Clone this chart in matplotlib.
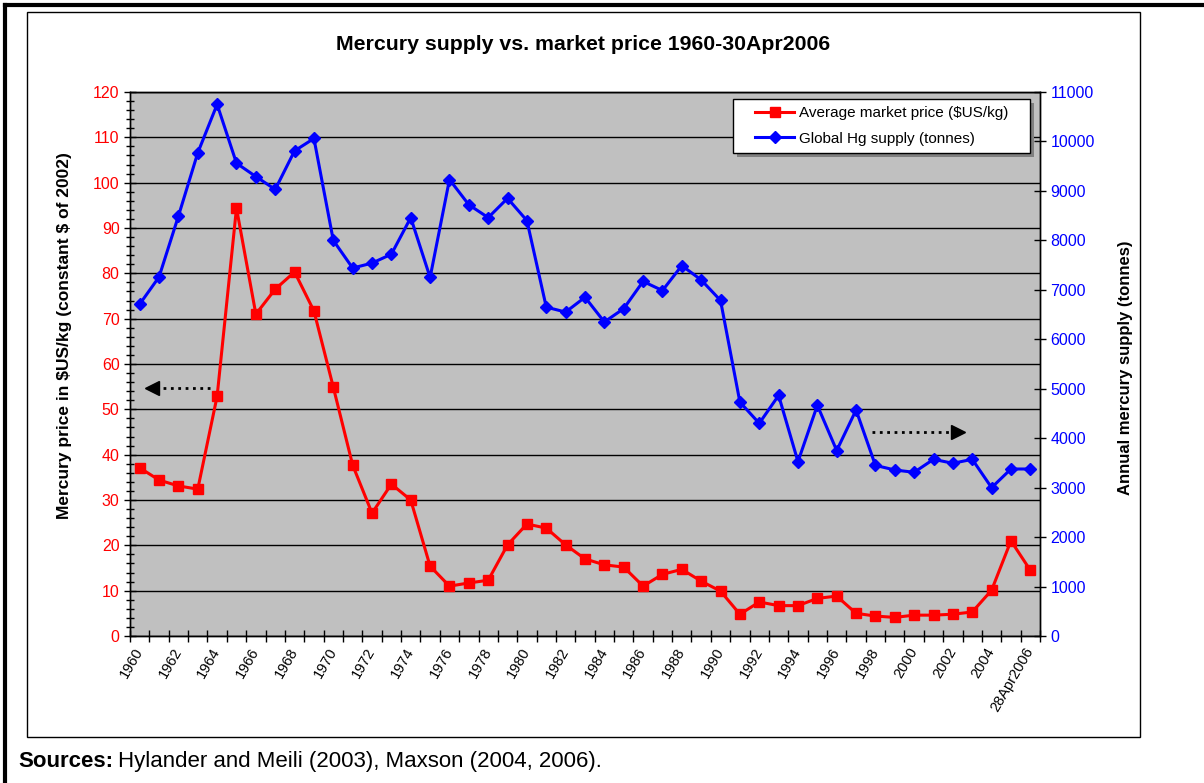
import matplotlib.pyplot as plt
from matplotlib.ticker import MultipleLocator, FixedLocator
from matplotlib.lines import Line2D
from matplotlib.patches import Rectangle

plt.rcParams['font.family'] = ['Liberation Sans', 'DejaVu Sans']

# categories: one per year, last one is the 2006 spot value
years = [str(y) for y in range(1960, 2006)] + ['28Apr2006']

# average market price ($US/kg, constant $ of 2002)
price = [37.1, 34.4, 33.1, 32.4, 52.9, 94.4, 71.0, 76.5, 80.3, 71.7,
         54.9, 37.7, 27.1, 33.5, 30.0, 15.4, 11.0, 11.7, 12.3, 20.1,
         24.7, 23.8, 20.1, 17.0, 15.7, 15.2, 11.0, 13.6, 14.7, 12.1,
         9.9, 4.8, 7.5, 6.7, 6.7, 8.3, 8.8, 5.0, 4.4, 4.1,
         4.6, 4.6, 4.8, 5.3, 10.1, 21.0, 14.5]

# global Hg supply (tonnes)
supply = [6710, 7260, 8490, 9770, 10750, 9560, 9290, 9030, 9810, 10060,
          8000, 7440, 7540, 7720, 8460, 7250, 9230, 8720, 8460, 8850,
          8400, 6650, 6550, 6850, 6350, 6620, 7170, 6985, 7490, 7200,
          6785, 4730, 4300, 4865, 3525, 4665, 3750, 4570, 3450, 3357,
          3310, 3573, 3492, 3573, 3000, 3377, 3377]

x = list(range(len(years)))

W, H = 1204, 783
fig = plt.figure(figsize=(W / 100, H / 100), dpi=100)
ax = fig.add_axes([130 / W, (H - 636) / H, 910 / W, 544 / H])
ax.set_facecolor('#C0C0C0')

l1, = ax.plot(x, price, color='#FF0000', lw=2.2, marker='s', ms=6.5,
              label='Average market price ($US/kg)', zorder=3)
ax.set_xlim(-0.5, len(years) - 0.5)
ax.set_ylim(0, 120)
ax.yaxis.set_major_locator(MultipleLocator(10))
ax.yaxis.set_minor_locator(MultipleLocator(2))
ax.grid(axis='y', which='major', color='black', lw=1)
ax.set_axisbelow(True)

# category ticks between the years, labels on every second year
ax.set_xticks(x[::2])
ax.set_xticklabels(years[::2], rotation=60, ha='right', va='center',
                   rotation_mode='anchor', fontsize=10.5)
ax.xaxis.set_minor_locator(FixedLocator([i - 0.5 for i in range(len(years) + 1)]))
ax.tick_params(axis='x', which='major', length=0, pad=9)
ax.tick_params(axis='x', which='minor', direction='inout', length=8, width=1)
ax.tick_params(axis='y', which='major', direction='inout', length=9, width=1,
               labelcolor='#FF0000', labelsize=11.5, pad=3)
ax.tick_params(axis='y', which='minor', direction='inout', length=6, width=1)
ax.set_ylabel(r'Mercury price in \$US/kg (constant \$ of 2002)', fontsize=12.5,
              fontweight='bold')
ax.yaxis.set_label_coords(-0.064, 0.553)

ax2 = ax.twinx()
l2, = ax2.plot(x, supply, color='#0000FF', lw=2.2, marker='D', ms=6.5,
               label='Global Hg supply (tonnes)', zorder=3)
ax2.set_ylim(0, 11000)
ax2.yaxis.set_major_locator(MultipleLocator(1000))
ax2.tick_params(axis='y', direction='inout', length=9, width=1,
                labelcolor='#0000FF', labelsize=11.5, pad=3)
ax2.set_ylabel('Annual mercury supply (tonnes)', fontsize=12, fontweight='bold')
ax2.yaxis.set_label_coords(1.0857, 0.494)

for a in (ax, ax2):
    for s in a.spines.values():
        s.set_color('black')
        s.set_linewidth(1)

# legend box with a grey drop shadow, legend itself frameless on top
lx0, ly0, lx1, ly1 = 733, 99, 1030, 153
fig.add_artist(Rectangle(((lx0 + 4) / W, (H - ly1 - 4) / H), (lx1 - lx0) / W,
                         (ly1 - ly0) / H, transform=fig.transFigure,
                         fc='#808080', ec='none', zorder=5))
fig.add_artist(Rectangle((lx0 / W, (H - ly1) / H), (lx1 - lx0) / W,
                         (ly1 - ly0) / H, transform=fig.transFigure,
                         fc='white', ec='black', lw=1, zorder=6))
leg = fig.legend(handles=[l1, l2], loc='center',
                 bbox_to_anchor=((lx0 + lx1) / 2 / W, (H - (ly0 + ly1) / 2) / H),
                 frameon=False, fontsize=11, numpoints=1,
                 handlelength=2.6, borderpad=0.2, labelspacing=0.75,
                 handletextpad=0.3)
leg.set_zorder(7)

# dotted arrows pointing to the matching axis
ax.plot([0.088, 0.03], [0.456, 0.456], transform=ax.transAxes, ls=':',
        color='black', lw=2)
ax.plot([0.024], [0.456], transform=ax.transAxes, marker='<', ms=10,
        color='black', ls='none')
ax.plot([0.815, 0.905], [0.375, 0.375], transform=ax.transAxes, ls=':',
        color='black', lw=2)
ax.plot([0.91], [0.375], transform=ax.transAxes, marker='>', ms=10,
        color='black', ls='none')

fig.text(583 / W, 1 - 45 / H, 'Mercury supply vs. market price 1960-30Apr2006',
         ha='center', va='center', fontsize=15.3, fontweight='bold')

# frames
fig.add_artist(Rectangle((27 / W, (H - 737) / H), (1140 - 27) / W, (737 - 12) / H,
                         transform=fig.transFigure, fill=False, ec='black', lw=1))
fig.add_artist(Line2D([5 / W, 5 / W], [0, 1 - 5 / H], color='black', lw=3))
fig.add_artist(Line2D([5 / W, 1], [1 - 5 / H, 1 - 5 / H], color='black', lw=3))

t1 = fig.text(18 / W, (H - 767) / H, 'Sources:', fontsize=16,
              fontweight='bold', va='baseline')
fig.canvas.draw()
bb = t1.get_window_extent()
fig.text(bb.x1 / W + 5 / W, (H - 767) / H,
         'Hylander and Meili (2003), Maxson (2004, 2006).', fontsize=16,
         va='baseline')

fig.savefig('out.png', dpi=100)
